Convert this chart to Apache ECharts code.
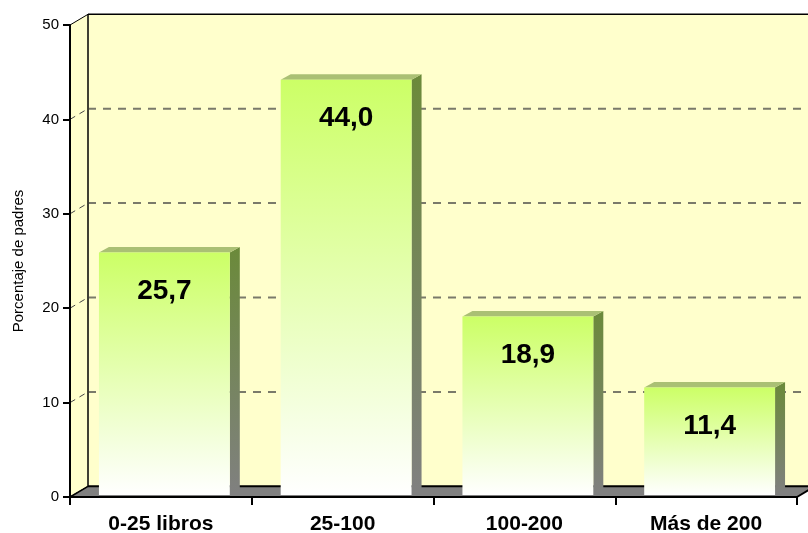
<!DOCTYPE html>
<html>
<head>
<meta charset="utf-8">
<script src="https://cdn.jsdelivr.net/npm/echarts@6/dist/echarts.min.js"></script>
<style>html,body{margin:0;padding:0;background:#fff;}#chart{width:808px;height:533px;}</style>
</head>
<body>
<div id="chart"></div>
<script>
const categories = ['0-25 libros', '25-100', '100-200', 'Más de 200'];
const values = [25.7, 44.0, 18.9, 11.4];
const valueLabels = ['25,7', '44,0', '18,9', '11,4'];
const gridValues = [10, 20, 30, 40];
const yAxisName = 'Porcentaje de padres';

const FONT = '"Liberation Sans", Arial, sans-serif';
const DXB = 18, DYB = -10.7;     // back wall offset
const DXF = 3.5, DYF = -2;       // bar front plane offset
const DXD = 10, DYD = -5.5;      // bar depth

function renderWalls(params, api) {
  const cs = params.coordSys;
  const x0 = cs.x, x1 = cs.x + cs.width, yT = cs.y, yB = cs.y + cs.height;
  const ch = [];
  ch.push({type: 'polygon', shape: {points: [[x0 + DXB, yT + DYB], [x1 + DXB, yT + DYB], [x1 + DXB, yB + DYB], [x0 + DXB, yB + DYB]]}, style: {fill: '#FFFFCC'}});
  ch.push({type: 'polygon', shape: {points: [[x0, yT], [x0 + DXB, yT + DYB], [x0 + DXB, yB + DYB], [x0, yB]]}, style: {fill: '#FFFFCC', stroke: '#000', lineWidth: 1}});
  ch.push({type: 'polygon', shape: {points: [[x0, yB], [x1, yB], [x1 + DXB, yB + DYB], [x0 + DXB, yB + DYB]]}, style: {fill: '#808080'}});
  gridValues.forEach(function (v) {
    const y = api.coord([0, v])[1];
    ch.push({type: 'line', shape: {x1: x0 + DXB, y1: y + DYB, x2: x1 + DXB, y2: y + DYB}, style: {stroke: '#7a7a6a', lineWidth: 2, lineDash: [8, 7]}});
    ch.push({type: 'line', shape: {x1: x0, y1: y, x2: x0 + DXB, y2: y + DYB}, style: {stroke: '#444', lineWidth: 1, lineDash: [6, 5]}});
  });
  ch.push({type: 'line', shape: {x1: x0 + DXB, y1: yT + DYB, x2: x1 + DXB + 10, y2: yT + DYB}, style: {stroke: '#000', lineWidth: 1.5}});
  ch.push({type: 'line', shape: {x1: x0 + DXB, y1: yT + DYB, x2: x0 + DXB, y2: yB + DYB}, style: {stroke: '#000', lineWidth: 1}});
  ch.push({type: 'line', shape: {x1: x0 + DXB, y1: yB + DYB, x2: x1 + DXB + 10, y2: yB + DYB}, style: {stroke: '#000', lineWidth: 2}});
  ch.push({type: 'line', shape: {x1: x0, y1: yB, x2: x0 + DXB, y2: yB + DYB}, style: {stroke: '#000', lineWidth: 1.5}});
  ch.push({type: 'line', shape: {x1: x1, y1: yB, x2: x1 + DXB, y2: yB + DYB}, style: {stroke: '#000', lineWidth: 2}});
  return {type: 'group', children: ch};
}

function renderBar(params, api) {
  const idx = api.value(0), v = api.value(1);
  const p = api.coord([idx, v]);
  const p0 = api.coord([idx, 0]);
  const band = api.size([1, 0])[0];
  const w = band * 0.72;
  const xl = p[0] - w / 2 + DXF, xr = xl + w;
  const yt = p[1] + DYF, yb = p0[1] + DYF;
  return {
    type: 'group',
    children: [
      {type: 'polygon', shape: {points: [[xr, yt], [xr + DXD, yt + DYD], [xr + DXD, yb + DYD], [xr, yb]]},
        style: {fill: new echarts.graphic.LinearGradient(0, 0, 0, 1, [{offset: 0, color: '#6b8a3a'}, {offset: 1, color: '#808080'}])}},
      {type: 'polygon', shape: {points: [[xl, yt], [xl + DXD, yt + DYD], [xr + DXD, yt + DYD], [xr, yt]]},
        style: {fill: '#aac074'}},
      {type: 'rect', shape: {x: xl, y: yt, width: w, height: yb - yt},
        style: {fill: new echarts.graphic.LinearGradient(0, 0, 0, 1, [{offset: 0, color: '#CCFF66'}, {offset: 1, color: '#FFFFFF'}])}},
      {type: 'text', style: {text: valueLabels[idx], x: (xl + xr) / 2, y: yt + 38.5,
        align: 'center', verticalAlign: 'middle', textAlign: 'center', textVerticalAlign: 'middle',
        fill: '#000', font: 'bold 28px ' + FONT}}
    ]
  };
}

const chart = echarts.init(document.getElementById('chart'), null, {renderer: 'canvas'});
chart.setOption({
  animation: false,
  backgroundColor: '#fff',
  grid: {left: 70, right: 11, top: 25, bottom: 36, containLabel: false, outerBoundsMode: 'none'},
  xAxis: {
    type: 'category', data: categories, z: 10,
    axisLine: {lineStyle: {color: '#000', width: 2}},
    axisTick: {show: true, length: 8, interval: 0, lineStyle: {color: '#000', width: 2}},
    axisLabel: {interval: 0, margin: 17, color: '#000', fontSize: 21, fontWeight: 'bold', fontFamily: FONT},
    splitLine: {show: false}
  },
  yAxis: {
    type: 'value', min: 0, max: 50, interval: 10, z: 10,
    name: yAxisName, nameLocation: 'middle', nameGap: 44, nameRotate: 90,
    nameTextStyle: {color: '#000', fontSize: 15, fontFamily: FONT},
    axisLine: {show: true, lineStyle: {color: '#000', width: 2}},
    axisTick: {show: true, length: 7, lineStyle: {color: '#000', width: 2}},
    axisLabel: {margin: 11, color: '#000', fontSize: 15, fontFamily: FONT},
    splitLine: {show: false}
  },
  series: [
    {type: 'custom', z: 1, silent: true, renderItem: renderWalls, data: [[0, 0]], clip: false},
    {type: 'custom', z: 2, renderItem: renderBar, clip: false,
      data: values.map(function (v, i) { return [i, v]; })}
  ]
});
</script>
</body>
</html>
